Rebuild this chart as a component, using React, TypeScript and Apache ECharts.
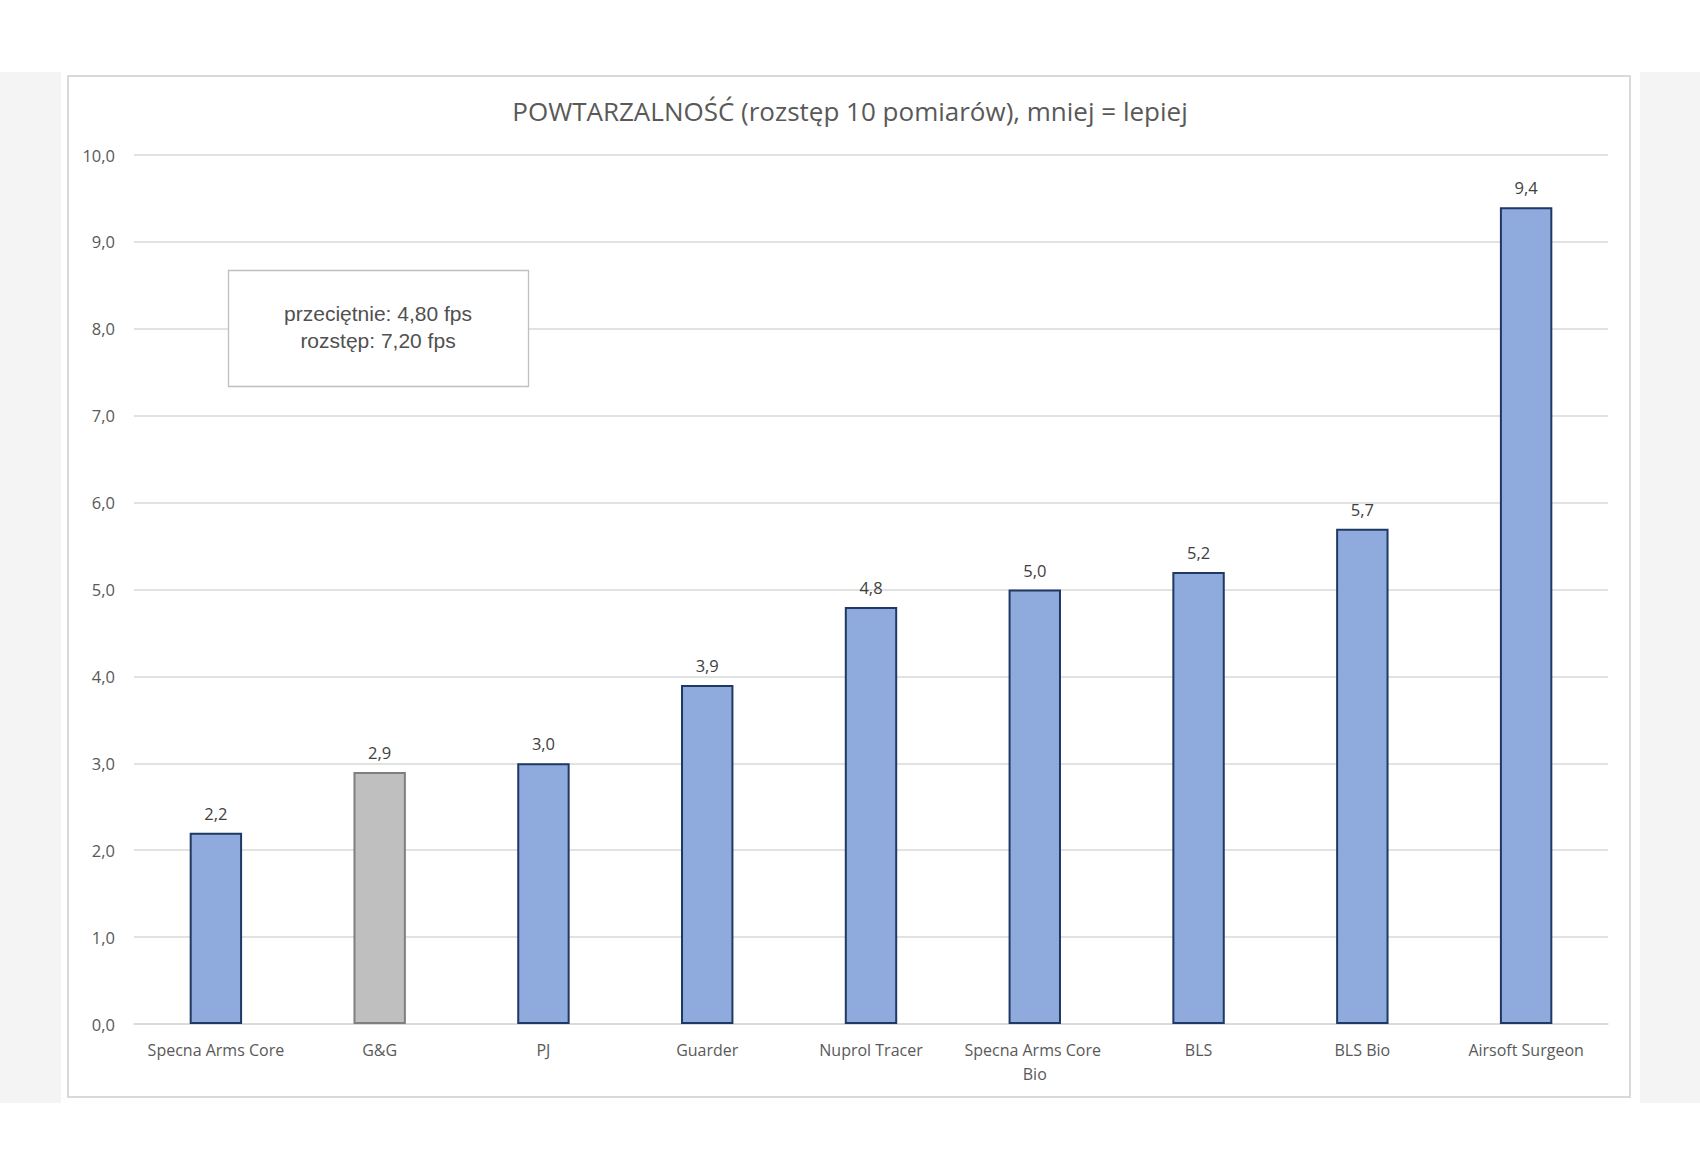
import React, { useEffect, useRef } from "react";
import * as echarts from "echarts";

const categories = [
  "Specna Arms Core",
  "G&G",
  "PJ",
  "Guarder",
  "Nuprol Tracer",
  "Specna Arms Core Bio",
  "BLS",
  "BLS Bio",
  "Airsoft Surgeon",
];
const values = [2.2, 2.9, 3.0, 3.9, 4.8, 5.0, 5.2, 5.7, 9.4];
const highlighted = ["G&G"];
const titleText = "POWTARZALNOŚĆ (rozstęp 10 pomiarów), mniej = lepiej";
const noteLines = ["przeciętnie: 4,80 fps", "rozstęp: 7,20 fps"];

const FONT = "'Open Sans', 'Noto Sans', sans-serif";

export default function App() {
  const ref = useRef<HTMLDivElement>(null);
  useEffect(() => {
    if (!ref.current) return;
    const chart = echarts.init(ref.current, null, { renderer: "svg" });
    const fmt = (v: number) => v.toFixed(1).replace(".", ",");
    chart.setOption({
      animation: false,
      backgroundColor: "#ffffff",
      title: {
        text: titleText,
        left: "center",
        top: 93,
        textStyle: {
          fontFamily: FONT,
          fontSize: 26,
          fontWeight: "normal",
          color: "#595959",
        },
      },
      grid: { left: 134, right: 92, top: 155, bottom: 126 },
      xAxis: {
        type: "category",
        data: categories,
        axisLine: { lineStyle: { color: "#D9D9D9", width: 1.5 } },
        axisTick: { show: false },
        axisLabel: {
          fontFamily: FONT,
          fontSize: 16,
          color: "#595959",
          margin: 14,
          width: 150,
          overflow: "break",
          lineHeight: 24,
          interval: 0,
        },
      },
      yAxis: {
        type: "value",
        min: 0,
        max: 10,
        interval: 1,
        axisLine: { show: false },
        axisTick: { show: false },
        splitLine: { lineStyle: { color: "#D9D9D9", width: 1.5 } },
        axisLabel: {
          fontFamily: FONT,
          fontSize: 16.5,
          color: "#595959",
          margin: 19,
          formatter: (v: number) => fmt(v),
        },
      },
      series: [
        {
          type: "bar",
          barWidth: "32%",
          data: values.map((v, i) => {
            const hi = highlighted.includes(categories[i]);
            return {
              value: v,
              itemStyle: {
                color: hi ? "#BFBFBF" : "#8FAADC",
                borderColor: hi ? "#7F7F7F" : "#1F3864",
                borderWidth: 2,
              },
            };
          }),
          label: {
            show: true,
            position: "top",
            distance: 11,
            fontFamily: FONT,
            fontSize: 16.5,
            color: "#404040",
            formatter: (p: any) => fmt(p.value),
          },
        },
      ],
      graphic: [
        {
          type: "rect",
          z: -10,
          silent: true,
          shape: { x: 0, y: 72, width: 61, height: 1031 },
          style: { fill: "#F4F4F4" },
        },
        {
          type: "rect",
          z: -10,
          silent: true,
          shape: { x: 1640, y: 72, width: 60, height: 1031 },
          style: { fill: "#F4F4F4" },
        },
        {
          type: "rect",
          z: -9,
          silent: true,
          shape: { x: 68, y: 76, width: 1562, height: 1021 },
          style: { fill: "#ffffff", stroke: "#D9D9D9", lineWidth: 2 },
        },
        {
          type: "rect",
          z: 10,
          shape: { x: 228.5, y: 270.5, width: 300, height: 116 },
          style: { fill: "#ffffff", stroke: "#BFBFBF", lineWidth: 1.3 },
        },
        {
          type: "text",
          z: 11,
          x: 378,
          y: 327,
          style: {
            text: noteLines.join("\n"),
            fontFamily: "'Liberation Sans', Arial, sans-serif",
            fontSize: 21,
            lineHeight: 27,
            fill: "#505050",
            align: "center",
            verticalAlign: "middle",
          },
        },
      ],
    });
    return () => chart.dispose();
  }, []);
  return (
    <div
      ref={ref}
      style={{ position: "absolute", left: 0, top: 0, width: 1700, height: 1150 }}
    />
  );
}
